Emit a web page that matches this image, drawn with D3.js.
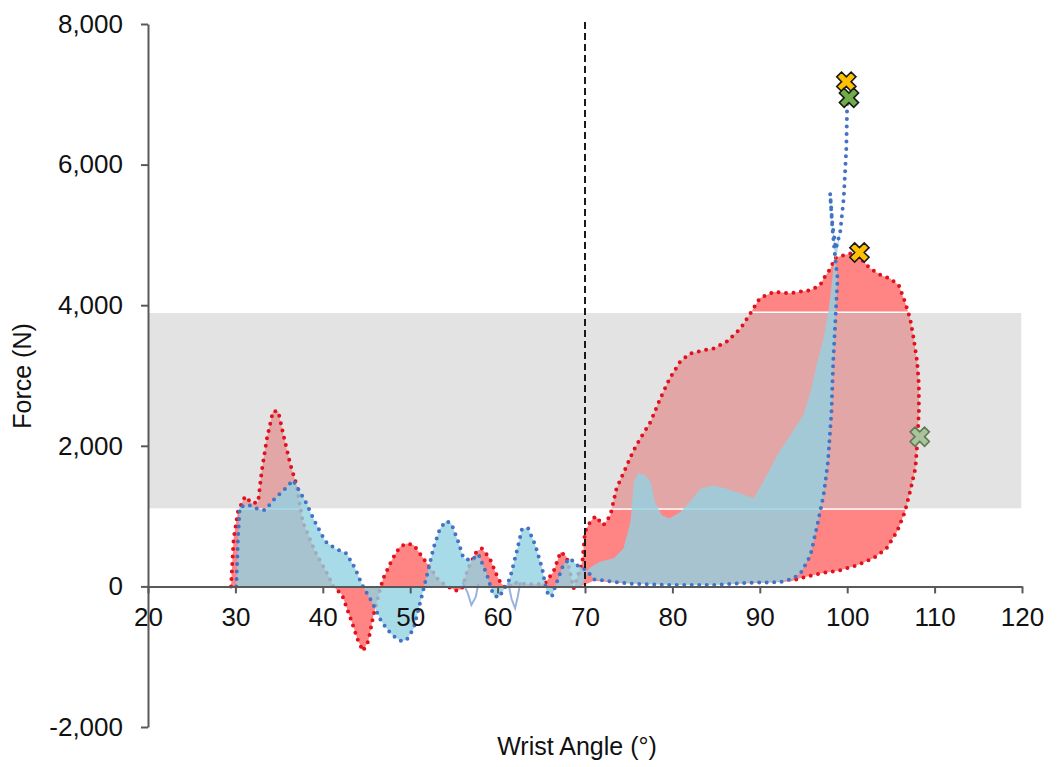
<!DOCTYPE html>
<html>
<head>
<meta charset="utf-8">
<script src="https://cdn.jsdelivr.net/npm/d3@7"></script>
<style>
  html, body { margin: 0; padding: 0; background: #ffffff; }
  svg { display: block; font-family: "Liberation Sans", Arial, sans-serif; }
</style>
</head>
<body>
<script>
// ---- Data: wrist angle (deg) vs force (N) ----

// Red loop: dotted outline (loading up to the peak, unloading down the right side)
const redTraceAngle = [29.5, 29.8, 30.3, 31.1, 31.9, 32.6, 33.0, 33.6, 34.3, 34.9, 35.5, 36.3, 37.0, 37.7, 39.1, 40.6, 41.2, 42.2, 43.3, 44.0, 44.6, 45.2, 45.8, 46.5, 46.9, 47.9, 48.8, 49.6, 50.4, 51.5, 52.3, 53.3, 54.3, 55.2, 55.9, 56.6, 57.6, 58.2, 59.1, 59.9, 60.3, 61.0, 61.8, 62.8, 64.0, 65.4, 66.4, 67.2, 67.9, 68.7, 69.7, 70.0, 70.6, 71.2, 72.1, 72.9, 73.6, 74.8, 75.5, 76.3, 77.5, 78.6, 79.7, 80.9, 82.0, 83.6, 84.7, 86.2, 87.8, 88.9, 90.0, 91.6, 93.5, 95.8, 96.9, 97.3, 98.1, 98.6, 99.6, 100.5, 101.5, 102.6, 103.8, 104.9, 105.9, 106.6, 107.2, 107.6, 108.0, 108.2, 108.2, 108.0, 107.8, 107.2, 106.6, 105.7, 104.5, 103.0, 101.1, 99.2, 96.9, 94.6, 93.5];
const redTraceForce = [0, 680, 1070, 1280, 1180, 1200, 1630, 2100, 2490, 2490, 2150, 1730, 1440, 920, 500, 160, 0, -120, -500, -760, -920, -780, -410, -70, 110, 375, 560, 610, 590, 400, 260, 80, 0, -60, -40, 250, 500, 540, 400, 160, 60, -30, 60, 40, 30, 40, 210, 490, 420, -30, 350, 780, 920, 1000, 870, 1010, 1390, 1725, 1920, 2100, 2340, 2670, 2960, 3200, 3310, 3360, 3385, 3480, 3670, 3880, 4100, 4190, 4170, 4215, 4285, 4380, 4525, 4670, 4710, 4740, 4670, 4525, 4430, 4380, 4285, 4050, 3810, 3530, 3200, 2865, 2485, 2010, 1680, 1350, 1060, 780, 540, 400, 300, 230, 185, 115, 70];
// Red loop: return along the baseline (filled, not outlined)
const redReturnAngle = [88.0, 80.0, 74.0, 71.0, 69.5];
const redReturnForce = [40, 30, 50, 80, 0];

// Blue loop: dotted outline
const blueTraceAngle = [30.1, 30.3, 30.5, 31.5, 32.4, 33.4, 34.5, 35.7, 36.6, 38.0, 39.1, 40.3, 41.4, 42.7, 43.7, 44.5, 45.6, 46.7, 47.9, 49.0, 49.6, 50.4, 51.1, 51.8, 52.7, 53.4, 54.1, 54.7, 55.5, 56.1, 57.0, 57.8, 58.8, 59.5, 60.1, 60.7, 61.4, 62.2, 62.8, 63.5, 64.3, 65.1, 65.6, 66.2, 66.6, 67.5, 68.3, 69.1, 70.2, 71.0, 75.0, 80.0, 85.0, 88.5, 92.3, 93.9, 94.8, 95.8, 96.5, 97.3, 97.8, 98.2, 98.4, 98.6, 98.9, 98.6, 98.3, 98.05, 98.3, 98.7, 99.2, 99.6, 99.9, 100.0];
const blueTraceForce = [0, 700, 1130, 1160, 1110, 1085, 1250, 1390, 1510, 1210, 920, 640, 540, 470, 255, 20, -215, -500, -690, -780, -760, -600, -250, 100, 560, 820, 930, 900, 635, 400, 370, 460, 160, -120, -160, -50, 110, 500, 825, 825, 590, 255, -75, -150, 0, 300, 400, 300, 230, 100, 40, 20, 20, 50, 60, 115, 210, 445, 825, 1300, 1770, 2485, 3200, 3670, 4380, 4710, 5100, 5590, 5150, 4800, 5045, 5520, 6230, 6900];
// Blue loop: unloading edge (filled, not outlined)
const blueReturnAngle = [99.9, 99.6, 99.2, 98.8, 98.5, 98.3, 97.9, 97.3, 96.5, 95.8, 95.0, 93.5, 92.0, 90.4, 89.3, 87.8, 86.2, 84.7, 83.2, 82.0, 80.9, 79.7, 78.8, 78.0, 77.5, 76.9, 76.1, 75.6, 75.2, 74.4, 73.3, 71.7, 70.5, 69.6];
const blueReturnForce = [6230, 5520, 5045, 4700, 4620, 4380, 3955, 3530, 3150, 2770, 2440, 2150, 1870, 1490, 1250, 1320, 1390, 1440, 1390, 1200, 1060, 970, 1010, 1200, 1490, 1580, 1610, 1490, 920, 540, 400, 350, 260, 0];

// Thin light-blue trace dipping below zero (null splits the two dips)
const faintAngle = [56.0, 56.6, 57.0, 57.5, 57.8, null, 61.2, 61.6, 62.0, 62.3, 62.6];
const faintForce = [60, -100, -265, -150, 40, null, 60, -180, -310, -150, 60];

// Reference band and threshold angle
const bandForce = [1100, 3900];
const thresholdAngle = 70;
const thresholdForce = [0, 8000];

// Peak markers
const markerAngle = [99.9, 100.2, 101.4, 108.3];
const markerForce = [7180, 6950, 4750, 2130];
const markerFill = ["#ffc000", "#70ad47", "#ffc000", "#a9c49a"];
const markerStroke = ["#1a1a1a", "#1a1a1a", "#1a1a1a", "#5d7a55"];

// Axis ticks
const xTicks = [20, 30, 40, 50, 60, 70, 80, 90, 100, 110, 120];
const yTicks = [-2000, 0, 2000, 4000, 6000, 8000];

// ---- Drawing ----
const W = 1058, H = 767;
const svg = d3.select("body").append("svg").attr("width", W).attr("height", H);

const x = d3.scaleLinear().domain([20, 120]).range([148, 1022]);
const y = d3.scaleLinear().domain([-2000, 8000]).range([727, 24]);

const zip = (a, f) => a.map((v, i) => ({ a: v, f: f[i] }));
const line = d3.line()
  .defined(d => d.a != null && d.f != null)
  .x(d => x(d.a)).y(d => y(d.f));

const redTrace = zip(redTraceAngle, redTraceForce);
const redLoop = redTrace.concat(zip(redReturnAngle, redReturnForce));
const blueTrace = zip(blueTraceAngle, blueTraceForce);
const blueLoop = blueTrace.concat(zip(blueReturnAngle, blueReturnForce));

// red loop fill
svg.append("path")
  .attr("d", line(redLoop) + "Z")
  .attr("fill", "#ff8585")
  .attr("stroke", "none");

// shaded reference band
svg.append("rect")
  .attr("x", x(20)).attr("width", x(120) - x(20))
  .attr("y", y(bandForce[1])).attr("height", y(bandForce[0]) - y(bandForce[1]))
  .attr("fill", "#c7c7c7").attr("fill-opacity", 0.5)
  .attr("stroke", "#ffffff").attr("stroke-width", 1.5);

// red dotted outline
svg.append("path")
  .attr("d", line(redTrace))
  .attr("fill", "none")
  .attr("stroke", "#e3101e")
  .attr("stroke-width", 4)
  .attr("stroke-linecap", "round")
  .attr("stroke-dasharray", "0 7.5");

// blue loop fill
svg.append("path")
  .attr("d", line(blueLoop) + "Z")
  .attr("fill", "#92d2e2")
  .attr("fill-opacity", 0.8)
  .attr("stroke", "none");

// blue dotted outline
svg.append("path")
  .attr("d", line(blueTrace))
  .attr("fill", "none")
  .attr("stroke", "#4472c4")
  .attr("stroke-width", 4)
  .attr("stroke-linecap", "round")
  .attr("stroke-dasharray", "0 7.5");

// thin light-blue trace
svg.append("path")
  .attr("d", line(zip(faintAngle, faintForce)))
  .attr("fill", "none")
  .attr("stroke", "#8eaadb")
  .attr("stroke-width", 2)
  .attr("stroke-opacity", 0.9);

// axes
const fmt = d => d3.format(",")(d).replace("\u2212", "-");
const axisColor = "#595959";

const gy = svg.append("g")
  .attr("transform", `translate(${x(20)},0)`)
  .call(d3.axisLeft(y).tickValues(yTicks).tickFormat(fmt).tickSize(7).tickSizeOuter(0).tickPadding(18));

const gx = svg.append("g")
  .attr("transform", `translate(0,${y(0)})`)
  .call(d3.axisBottom(x).tickValues(xTicks).tickFormat(d3.format("d")).tickSize(7).tickSizeOuter(0).tickPadding(14));

[gy, gx].forEach(g => {
  g.select(".domain").attr("stroke", axisColor).attr("stroke-width", 2);
  g.selectAll(".tick line").attr("stroke", axisColor).attr("stroke-width", 2);
  g.selectAll("text")
    .attr("fill", "#111111")
    .style("font-family", "'Liberation Sans', Arial, sans-serif")
    .style("font-size", "26px");
});

// threshold angle (dashed)
svg.append("line")
  .attr("x1", x(thresholdAngle)).attr("x2", x(thresholdAngle))
  .attr("y1", y(thresholdForce[1]) - 2).attr("y2", y(thresholdForce[0]))
  .attr("stroke", "#1a1a1a")
  .attr("stroke-width", 2)
  .attr("stroke-dasharray", "7 4");

// markers (bold X)
const xSym = d3.symbol().type(d3.symbolCross).size(230);
svg.selectAll("path.marker")
  .data(markerAngle.map((a, i) => ({ a, f: markerForce[i], fill: markerFill[i], stroke: markerStroke[i] })))
  .join("path")
  .attr("class", "marker")
  .attr("d", xSym)
  .attr("transform", d => `translate(${x(d.a)},${y(d.f)}) rotate(45)`)
  .attr("fill", d => d.fill)
  .attr("stroke", d => d.stroke)
  .attr("stroke-width", 1.6)
  .attr("stroke-linejoin", "miter");

// axis titles
svg.append("text")
  .attr("x", 577).attr("y", 755)
  .attr("text-anchor", "middle")
  .style("font-size", "25px")
  .attr("fill", "#111111")
  .text("Wrist Angle (°)");

svg.append("text")
  .attr("transform", "translate(31,376) rotate(-90)")
  .attr("text-anchor", "middle")
  .style("font-size", "25px")
  .attr("fill", "#111111")
  .text("Force (N)");
</script>
</body>
</html>
